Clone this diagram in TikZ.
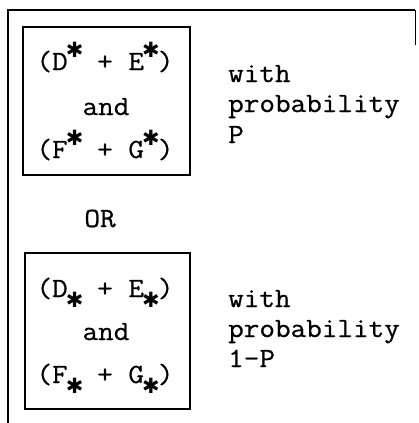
\documentclass[tikz,border=0pt]{standalone}
\usepackage{fontspec}
\setmonofont[FakeStretch=1.09,FakeBold=0.7]{Latin Modern Mono}
\newfontfamily\symfont{DejaVu Sans}
\newcommand\starglyph{\symfont\fontsize{21}{21}\selectfont ✱}
\newcommand\upstar{\makebox[0.5em]{\raisebox{20pt}{\raisebox{-0.5\height}{\starglyph}}}}
\newcommand\dnstar{\makebox[0.5em]{\raisebox{-3pt}{\raisebox{-0.5\height}{\starglyph}}}}
\begin{document}
\begin{tikzpicture}[x=1pt,y=-1pt,
  txt/.style={inner sep=0pt,font=\ttfamily\fontsize{27.8}{27.8}\selectfont,anchor=base},
  txtl/.style={txt,anchor=base west},
  frame/.style={line width=1.5pt},
  boxline/.style={line width=1.5pt}]
\useasboundingbox (0,0) rectangle (418,423);
% outer frame
\coordinate (fl) at (8,423);
\coordinate (ftl) at (8,10);
\coordinate (ftr) at (415,10);
\coordinate (frb) at (415,45);
\draw[frame] (fl) -- (ftl) -- (ftr);
\draw[line width=0.6pt] (ftr) -- (frb);
% box 1
\node[draw,boxline,minimum width=167pt,minimum height=148pt,inner sep=0pt] (b1) at (106.5,101) {};
\node[txt] (l11) at (105,70) {(D\upstar{} + E\upstar{})};
\node[txt] (l12) at (106,115) {and};
\node[txt] (l13) at (105,158) {(F\upstar{} + G\upstar{})};
\node[txtl] (r11) at (228,82) {with};
\node[txtl] (r12) at (228,112) {probability};
\node[txtl] (r13) at (228,143) {P};
% OR
\node[txt] (or) at (100,227) {OR};
% box 2
\node[draw,boxline,minimum width=165pt,minimum height=156pt,inner sep=0pt] (b2) at (107.5,331) {};
\node[txt] (l21) at (105,297) {(D\dnstar{} + E\dnstar{})};
\node[txt] (l22) at (106,340) {and};
\node[txt] (l23) at (105,383) {(F\dnstar{} + G\dnstar{})};
\node[txtl] (r21) at (228,307) {with};
\node[txtl] (r22) at (228,337) {probability};
\node[txtl] (r23) at (228,367) {1-P};
\end{tikzpicture}
\end{document}
